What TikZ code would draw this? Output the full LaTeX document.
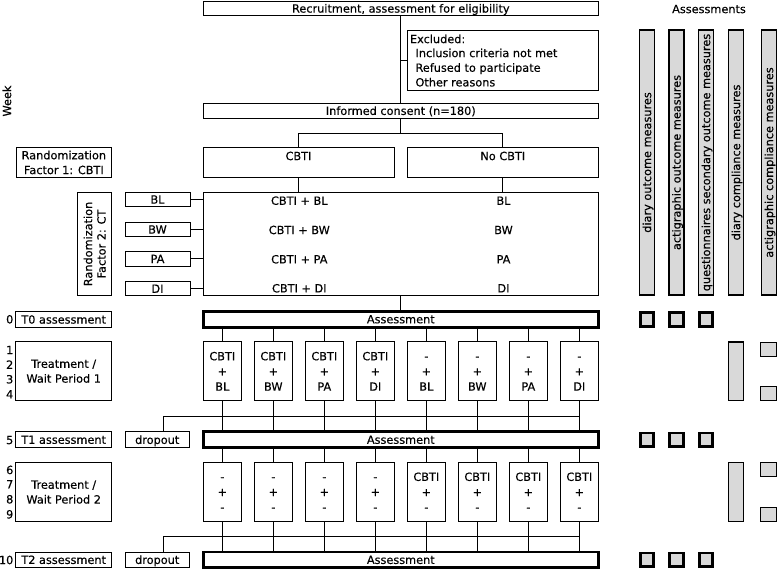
\documentclass[tikz,border=0pt]{standalone}
\usepackage{fontspec}
\setmainfont{DejaVu Sans}[FakeBold=0.3]
\usetikzlibrary{calc}
\definecolor{barfill}{RGB}{217,217,217}
\newcommand{\mystrut}{\rule{0pt}{8.2pt}}
\begin{document}
\begin{tikzpicture}[x=1pt,y=-1pt,
  every node/.style={font=\fontsize{11.3}{14.8}\selectfont, inner sep=0pt, outer sep=0pt},
  sz/.style 2 args={minimum width=#1pt, minimum height=#2pt},
  one/.style={text height=8.2pt, text depth=0pt},
  bx/.style={draw, line width=1pt, rectangle},
  abx/.style={draw, line width=2.6pt, rectangle},
  gbx/.style={draw, fill=barfill, line width=1.2pt, rectangle},
  ln/.style={line width=1pt},
  tbox/.style={bx, sz={38}{59.3}, align=center, font=\fontsize{11.3}{15.2}\selectfont}]
\useasboundingbox (0,0) rectangle (778,569);

% top flow
\node[bx, sz={395}{14}, one] (rec) at (400.8,8.5) {Recruitment, assessment for eligibility};
\node[bx, sz={191}{60}] (excl) at (502.8,60.7) {};
\node[one, anchor=west] (ex0) at (410,39) {Excluded:};
\node[one, anchor=west] (ex1) at (415.5,53) {Inclusion criteria not met};
\node[one, anchor=west] (ex2) at (415.5,67.7) {Refused to participate};
\node[one, anchor=west] (ex3) at (415.5,82.3) {Other reasons};
\node[bx, sz={395}{15}, one] (cons) at (400.8,110.8) {Informed consent (n=180)};

\node[bx, sz={191}{29.6}] (cbti) at (298.5,162.5) {};
\node[one] (cbtit) at (298.5,156) {CBTI};
\node[bx, sz={191}{29.6}] (nocbti) at (502.8,162.5) {};
\node[one] (nocbtit) at (502.8,156) {No CBTI};
\node[bx, sz={95.7}{29.6}, align=center] (f1) at (63.85,162.5) {\mystrut Randomization\\\mystrut Factor 1: CBTI};

\node[bx, sz={395}{102.7}] (big) at (400.8,244.35) {};
\foreach \yy/\lab in {200.7/BL,230/BW,259.3/PA,288.3/DI}{
  \node[one] (L\lab) at (299.3,\yy) {CBTI + \lab};
  \node[one] (R\lab) at (503.5,\yy) {\lab};
}
\foreach \yy/\lab in {199.5/BL,229.5/BW,258.9/PA,288.7/DI}{
  \node[bx, sz={65}{14.4}, one] (s\lab) at (157.5,\yy) {\lab};
  \draw[ln] (s\lab.east) -- (s\lab.east -| big.west);
}
\node[bx, rotate=90, sz={103.4}{34}, align=center, font=\fontsize{11.3}{13.4}\selectfont] (f2) at (94.7,244) {\mystrut Randomization\\\mystrut Factor 2: CT};

\draw[ln] (rec.south) -- (cons.north);
\draw[ln] (excl.west) -- (excl.west -| rec.south);
\coordinate (sp) at ($(cons.south)+(0,14.8)$);
\draw[ln] (cons.south) -- (sp);
\draw[ln] (cbti.north) |- (sp) -| (nocbti.north);
\draw[ln] (cbti.south) -- (cbti.south |- big.north);
\draw[ln] (nocbti.south) -- (nocbti.south |- big.north);

% assessments
\node[abx, sz={395}{16}, one] (asm0) at (400.8,319.2) {Assessment};
\node[abx, sz={395}{16}, one] (asm1) at (400.8,439.7) {Assessment};
\node[abx, sz={395}{15.5}, one] (asm2) at (400.8,559.8) {Assessment};
\draw[ln] (big.south) -- (asm0.north);

% treatment period 1
\foreach \i/\ta/\tc in {1/CBTI/BL,2/CBTI/BW,3/CBTI/PA,4/CBTI/DI,5/-/BL,6/-/BW,7/-/PA,8/-/DI}{
  \node[tbox] (a\i) at ({222.3+51*(\i-1)},371.3) {\mystrut\ta\\\mystrut+\\\mystrut\tc};
  \draw[ln] (a\i.north) -- (a\i.north |- asm0.south);
  \draw[ln] (a\i.south) -- (a\i.south |- asm1.north);
}
% treatment period 2
\foreach \i/\ta in {1/-,2/-,3/-,4/-,5/CBTI,6/CBTI,7/CBTI,8/CBTI}{
  \node[tbox] (b\i) at ({222.3+51*(\i-1)},491.9) {\mystrut\ta\\\mystrut+\\\mystrut-};
  \draw[ln] (b\i.north) -- (b\i.north |- asm1.south);
  \draw[ln] (b\i.south) -- (b\i.south |- asm2.north);
}

% left labels
\node[bx, sz={96}{15.6}, one] (t0) at (63.7,319.5) {T0 assessment};
\node[bx, sz={96}{59}, align=center] (tw1) at (63.7,371.2) {\mystrut Treatment /\\\mystrut Wait Period 1};
\node[bx, sz={96}{16.3}, one] (t1) at (63.7,439.7) {T1 assessment};
\node[bx, sz={96}{59.2}, align=center] (tw2) at (63.7,492.1) {\mystrut Treatment /\\\mystrut Wait Period 2};
\node[bx, sz={96}{15.5}, one] (t2) at (63.7,559.8) {T2 assessment};
\node[bx, sz={64.3}{16.3}, one] (drop1) at (157.2,439.8) {dropout};
\node[bx, sz={64.3}{15.5}, one] (drop2) at (157.2,559.8) {dropout};

\coordinate (h1) at ($(a8.south)!0.5!(a8.south |- asm1.north)$);
\draw[ln] ([xshift=6pt]drop1.north) |- (h1);
\coordinate (h2) at ($(b8.south)!0.5!(b8.south |- asm2.north)$);
\draw[ln] ([xshift=6pt]drop2.north) |- (h2);

\foreach \n/\yy in {0/319.3,1/350,2/364.7,3/379.3,4/394.3,5/440,6/470,7/484.3,8/499.3,9/514.3,10/560}{
  \node[one, anchor=east] (w\n) at (13.3,\yy) {\n};
}
\node[one, rotate=90] (week) at (7,101) {Week};

% right side
\node[one] (asmt) at (709,9) {Assessments};
\foreach \k/\xx/\lab in {1/647/diary outcome measures,2/676.5/actigraphic outcome measures,3/706/questionnaires secondary outcome measures,4/736/diary compliance measures,5/769/actigraphic compliance measures}{
  \node[gbx, rotate=90, sz={265}{15}, one] (bar\k) at (\xx,162.5) {\lab};
}
\foreach \k/\xx in {1/647,2/676.5,3/706}{
  \foreach \r/\yy in {0/319.5,1/439.8,2/559.9}{
    \node[gbx, line width=2.6pt, sz={13.5}{13.5}] (sq\k\r) at (\xx,\yy) {};
  }
}
\node[gbx, sz={15}{58.5}] (dc1) at (736,371.3) {};
\node[gbx, sz={15}{58.5}] (dc2) at (736,491.9) {};
\foreach \m/\yy in {1/349.3,2/393.5,3/469.5,4/514.2}{
  \node[gbx, sz={15.5}{14}] (ac\m) at (768.5,\yy) {};
}
\end{tikzpicture}
\end{document}
